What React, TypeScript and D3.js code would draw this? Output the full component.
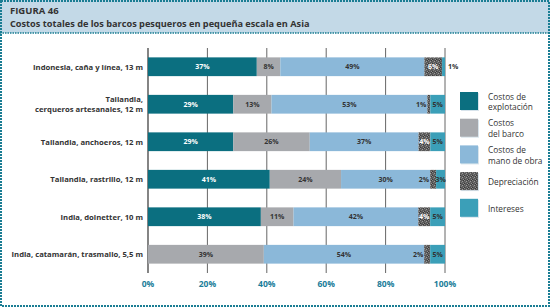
import React from 'react';
import * as d3 from 'd3';

const categories = [
  'Indonesia, caña y línea, 13 m',
  'Tailandia,|cerqueros artesanales, 12 m',
  'Tailandia, anchoeros, 12 m',
  'Tailandia, rastrillo, 12 m',
  'India, dolnetter, 10 m',
  'India, catamarán, trasmallo, 5,5 m',
];

const seriesNames = ['Costos de|explotación', 'Costos|del barco', 'Costos de|mano de obra', 'Depreciación', 'Intereses'];
const seriesColors = ['#0b6f80', '#a7a9ad', '#8bb8d9', 'url(#dep)', '#3b9fb8'];

const explotacion = [37, 29, 29, 41, 38, 0];
const barco = [8, 13, 26, 24, 11, 39];
const manoObra = [49, 53, 37, 30, 42, 54];
const depreciacion = [6, 1, 4, 2, 4, 2];
const intereses = [1, 5, 5, 3, 5, 5];

const tickValues = [0, 20, 40, 60, 80, 100];

const W = 550;
const H = 307;

export default function App() {
  const x = d3.scaleLinear().domain([0, 100]).range([148, 445]);
  const y = d3.scaleBand().domain(categories).range([48, 273]).paddingInner(0.5).paddingOuter(0.25);
  const series = [explotacion, barco, manoObra, depreciacion, intereses];

  const rows = categories.map((c, i) => {
    const vals = series.map((s) => s[i]);
    const total = d3.sum(vals);
    let acc = 0;
    const segs = vals.map((v, k) => {
      const x0 = (acc / total) * 100;
      acc += v;
      const x1 = (acc / total) * 100;
      return { k, v, x0, x1 };
    });
    return { c, segs };
  });

  const font = "'Open Sans', 'Noto Sans', sans-serif";

  return (
    <svg width={W} height={H} style={{ position: 'absolute', left: 0, top: 0 }} fontFamily={font}>
      <defs>
        <pattern id="dep" width="4" height="4" patternUnits="userSpaceOnUse">
          <rect width="4" height="4" fill="#5a5a5a" />
          <rect x="0" y="0" width="1" height="1" fill="#8a8a8a" />
          <rect x="2" y="1" width="1" height="1" fill="#9a9a9a" />
          <rect x="1" y="2" width="1" height="1" fill="#7c7c7c" />
          <rect x="3" y="3" width="1" height="1" fill="#8f8f8f" />
          <rect x="3" y="0" width="1" height="1" fill="#3a3a3a" />
          <rect x="0" y="3" width="1" height="1" fill="#3a3a3a" />
        </pattern>
      </defs>
      <rect x={0} y={0} width={W} height={H} fill="#fff" />
      <rect x={0} y={0} width={W} height={33} fill="#c3d9e7" />
      <line x1={0} x2={W} y1={33} y2={33} stroke="#1a7d93" strokeWidth={1.5} strokeDasharray="1.5 1" />
      <rect x={1} y={1} width={W - 2} height={H - 2} fill="none" stroke="#1a7d93" strokeWidth={2} strokeDasharray="2 1" />
      <text x={10} y={14} fontSize={9.5} fontWeight="bold" fill="#333">FIGURA 46</text>
      <text x={10} y={27} fontSize={9.2} fontWeight="bold" fill="#333">
        Costos totales de los barcos pesqueros en pequeña escala en Asia
      </text>

      {tickValues.map((t) => (
        <g key={t}>
          <line x1={x(t)} x2={x(t)} y1={48} y2={273} stroke={t === 0 ? '#333' : '#666'} strokeWidth={t === 0 ? 1.2 : 1} />
          <text x={x(t)} y={287} textAnchor="middle" fontSize={8.5} fontWeight="bold" fill="#1a7d9a">{t}%</text>
        </g>
      ))}

      {rows.map((r) => {
        const by = y(r.c) as number;
        const bh = y.bandwidth();
        const cy = by + bh / 2;
        const lines = r.c.split('|');
        return (
          <g key={r.c}>
            {lines.map((l, j) => (
              <text key={j} x={143} y={cy + 3 + (j - (lines.length - 1) / 2) * 10} textAnchor="end" fontSize={7.7} fontWeight="bold" fill="#333">{l}</text>
            ))}
            {r.segs.filter((s) => s.v > 0).map((s) => (
              <rect key={s.k} x={x(s.x0)} y={by} width={x(s.x1) - x(s.x0)} height={bh} fill={seriesColors[s.k]} />
            ))}
            {r.segs.filter((s) => s.v > 0).map((s) => {
              let lx = (x(s.x0) + x(s.x1)) / 2;
              let anchor = 'middle';
              let fill = s.k === 0 || s.k === 3 ? '#fff' : '#333';
              if (s.k === 3 && s.v < 4) {
                lx = x(s.x0) - 1;
                anchor = 'end';
                fill = '#333';
              }
              if (s.k === 4 && s.v < 3) {
                lx = x(s.x1) + 3;
                anchor = 'start';
              }
              return (
                <text key={'t' + s.k} x={lx} y={cy + 2.5} textAnchor={anchor} fontSize={7} fontWeight="bold" fill={fill}>{s.v}%</text>
              );
            })}
          </g>
        );
      })}

      {seriesNames.map((n, i) => {
        const ly = 93 + i * 26.7;
        const lines = n.split('|');
        return (
          <g key={n}>
            <rect x={461} y={ly} width={18} height={18} fill="#d8e4ec" />
            <rect x={460} y={ly - 1} width={18} height={18} fill={seriesColors[i]} />
            {lines.map((l, j) => (
              <text key={j} x={488} y={ly + 9 + 3 + (j - (lines.length - 1) / 2) * 10.5} fontSize={8.3} fill="#333">{l}</text>
            ))}
          </g>
        );
      })}
    </svg>
  );
}
